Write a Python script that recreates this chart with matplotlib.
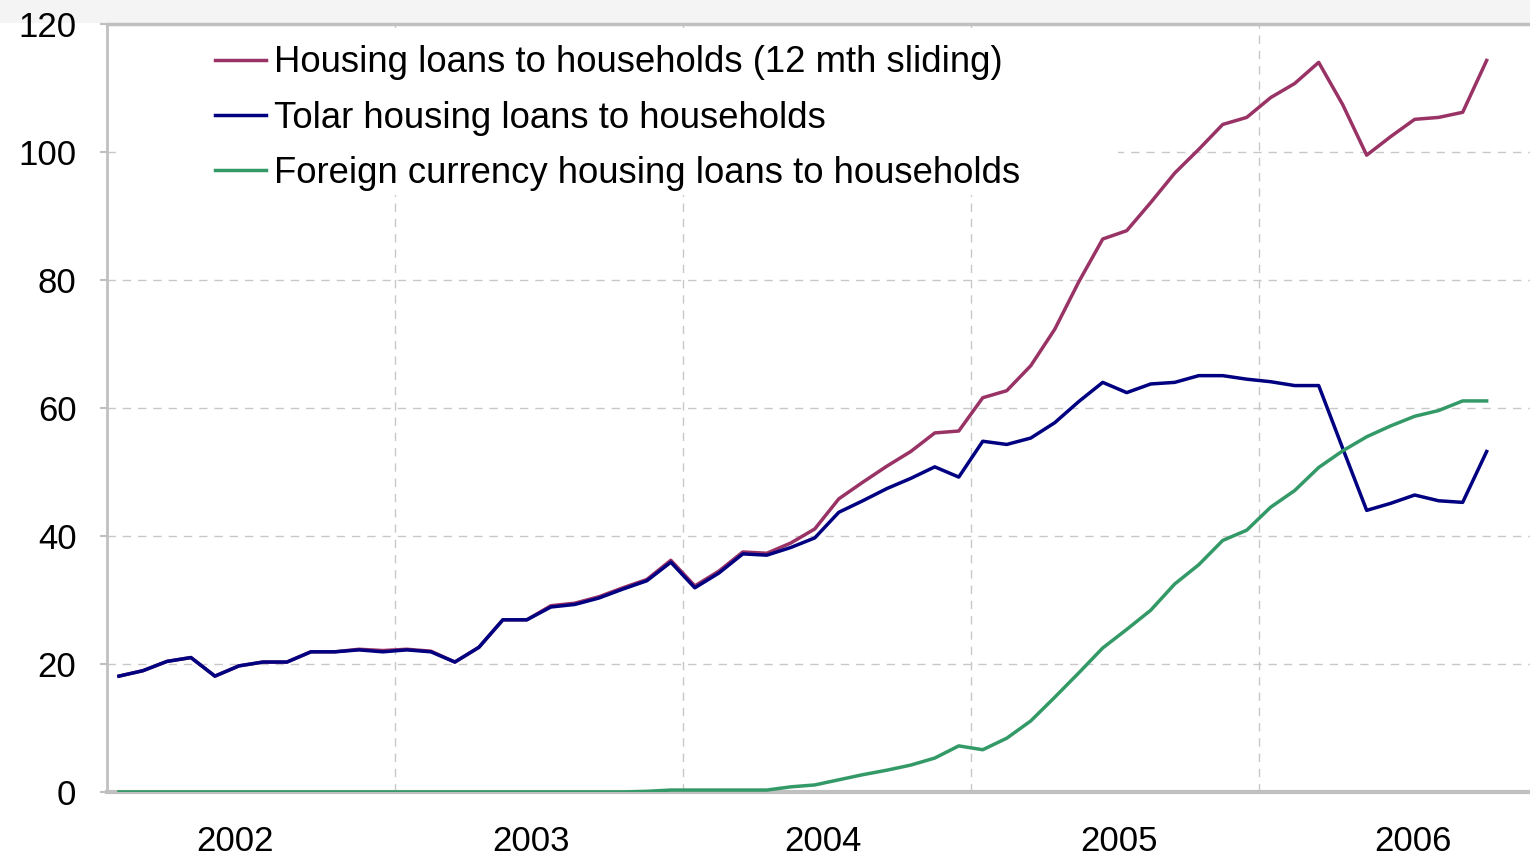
import numpy as np
import matplotlib
matplotlib.use('Agg')
import matplotlib.pyplot as plt
from matplotlib.patches import Rectangle

plt.rcParams['font.family'] = ['Liberation Sans', 'DejaVu Sans']

# monthly data, Jan 2002 - Oct 2006
total = [18.1, 18.95, 20.4, 21.0, 18.1, 19.7, 20.3, 20.3, 21.9, 21.9,
         22.3, 22.1, 22.3, 22.0, 20.3, 22.6, 26.9, 26.9, 29.1, 29.5,
         30.5, 31.9, 33.2, 36.2, 32.2, 34.5, 37.5, 37.3, 38.9, 41.1,
         45.8, 48.4, 50.9, 53.2, 56.1, 56.4, 61.6, 62.7, 66.6, 72.3,
         79.7, 86.4, 87.7, 92.1, 96.7, 100.4, 104.3, 105.4, 108.5, 110.7,
         114.0, 107.4, 99.5, 102.4, 105.1, 105.4, 106.2, 114.3]
tolar = [18.1, 18.95, 20.4, 21.0, 18.1, 19.7, 20.3, 20.3, 21.9, 21.9,
         22.2, 21.9, 22.2, 21.9, 20.3, 22.6, 26.9, 26.9, 28.9, 29.3,
         30.3, 31.7, 33.0, 35.9, 31.9, 34.2, 37.2, 37.0, 38.2, 39.7,
         43.7, 45.5, 47.4, 49.0, 50.8, 49.2, 54.8, 54.3, 55.3, 57.7,
         61.0, 64.0, 62.4, 63.75, 64.0, 65.05, 65.05, 64.5, 64.1, 63.5,
         63.5, 53.7, 44.0, 45.1, 46.4, 45.5, 45.25, 53.2]
foreign = [0, 0, 0, 0, 0, 0, 0, 0, 0, 0,
           0, 0, 0, 0, 0, 0, 0, 0, 0, 0,
           0, 0, 0.1, 0.3, 0.3, 0.3, 0.3, 0.3, 0.8, 1.1,
           1.9, 2.7, 3.4, 4.2, 5.3, 7.2, 6.6, 8.4, 11.1, 14.8,
           18.6, 22.5, 25.4, 28.4, 32.5, 35.5, 39.3, 40.9, 44.5, 47.1,
           50.7, 53.3, 55.5, 57.2, 58.7, 59.6, 61.1, 61.1]
years = ['2002', '2003', '2004', '2005', '2006']
labels = ['Housing loans to households (12 mth sliding)',
          'Tolar housing loans to households',
          'Foreign currency housing loans to households']

x = np.arange(len(total)) + 0.5

fig = plt.figure(figsize=(15.3, 8.56), dpi=100, facecolor='white')
fig.patches.append(Rectangle((0, 0.973), 1, 0.027, transform=fig.transFigure,
                             facecolor='#f4f4f4', edgecolor='none', zorder=-5))
ax = fig.add_axes([0.0699, 0.0748, 0.93, 0.8972])

ax.plot(x, total, color='#993366', lw=2.5, label=labels[0], zorder=3)
ax.plot(x, tolar, color='#000080', lw=2.5, label=labels[1], zorder=3)
ax.plot(x, foreign, color='#339966', lw=2.5, label=labels[2], zorder=3)

ax.set_xlim(0, 59.3)
ax.set_ylim(0, 120)
ax.set_yticks(range(0, 121, 20))

# year gridlines at year boundaries, labels near mid-year
ax.set_xticks([12, 24, 36, 48])
ax.set_xticklabels([])
ax.set_xticks([5.33, 17.68, 29.82, 42.17, 54.43], minor=True)
ax.set_xticklabels(years, minor=True)
ax.tick_params(axis='x', which='major', length=0)
ax.tick_params(axis='x', which='minor', length=0, labelsize=25, pad=24)
ax.tick_params(axis='y', length=5, color='#c0c0c0', width=1.5, labelsize=25, pad=17)

ax.set_axisbelow(True)
ax.grid(True, which='major', color='#c8c8c8', linestyle=(0, (6, 5)), lw=1.0)

for s in ['left', 'bottom', 'top']:
    ax.spines[s].set_color('#c0c0c0')
ax.spines['left'].set_linewidth(2)
ax.spines['bottom'].set_linewidth(3)
ax.spines['top'].set_linewidth(2.5)
ax.spines['right'].set_visible(False)

# white legend box covering the grid
ax.add_patch(Rectangle((0.0077, 0.777), 0.703, 0.218, transform=ax.transAxes,
                       facecolor='white', edgecolor='none', zorder=1))
ax.legend(loc='upper left', bbox_to_anchor=(0.0759, 0.972), frameon=False,
          fontsize=26.3, handlelength=1.4, handletextpad=0.22,
          labelspacing=0.55, borderpad=0, borderaxespad=0)

fig.savefig('out.png', dpi=100, facecolor=fig.get_facecolor())
